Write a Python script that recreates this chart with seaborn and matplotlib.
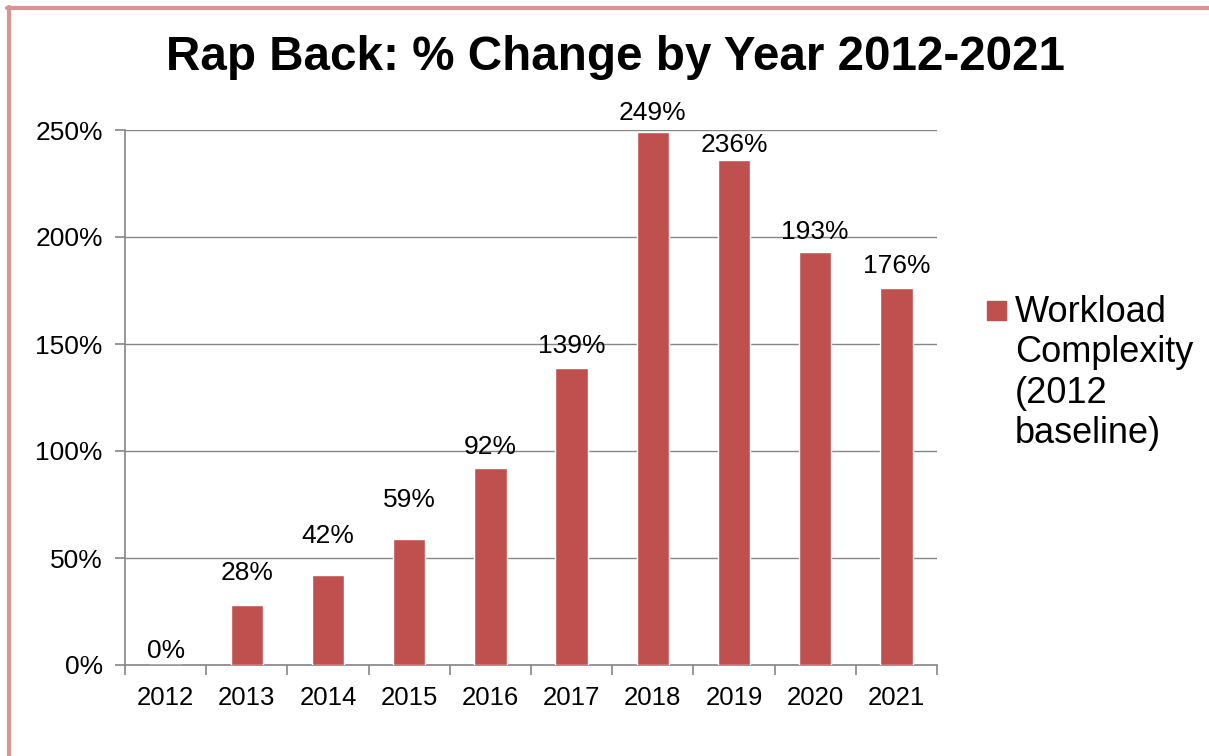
import matplotlib
matplotlib.use("Agg")
import matplotlib.pyplot as plt
import seaborn as sns
import pandas as pd
from matplotlib.lines import Line2D
from matplotlib.patches import Rectangle
from matplotlib.ticker import FuncFormatter, FixedLocator

years = ["2012", "2013", "2014", "2015", "2016", "2017", "2018", "2019", "2020", "2021"]
values = [0, 28, 42, 59, 92, 139, 249, 236, 193, 176]
series_name = "Workload\nComplexity\n(2012\nbaseline)"
title = "Rap Back: % Change by Year 2012-2021"
# vertical offsets (pixels) of the data labels above bar tops, as placed in the original
label_offsets_px = [14, 32, 39, 39, 21, 22, 19, 15, 20, 22]

sns.set_theme(style="white")
plt.rcParams['font.family'] = ['Liberation Sans', 'DejaVu Sans']
plt.rcParams['text.color'] = 'black'
plt.rcParams['xtick.color'] = 'black'
plt.rcParams['ytick.color'] = 'black'

df = pd.DataFrame({"year": years, "value": values})

fig = plt.figure(figsize=(12.09, 7.56), dpi=100)
ax = fig.add_axes([125/1209, 1-665/756, (937-125)/1209, (665-130)/756])

bar_color = "#C0504D"
sns.barplot(data=df, x="year", y="value", color=bar_color, width=0.4,
            saturation=1, ax=ax, zorder=3)

ax.set_ylim(0, 250)
ax.set_xlim(-0.5, len(years) - 0.5)
ax.set_yticks([0, 50, 100, 150, 200, 250])
ax.yaxis.set_major_formatter(FuncFormatter(lambda v, p: f"{int(v)}%"))
ax.grid(axis="y", color="#868686", linewidth=1, zorder=0)
ax.set_axisbelow(True)
ax.set_xlabel("")
ax.set_ylabel("")

for side in ["top", "right"]:
    ax.spines[side].set_visible(False)
for side in ["left", "bottom"]:
    ax.spines[side].set_color("#868686")
    ax.spines[side].set_linewidth(1.2)

ax.tick_params(axis="y", which="major", length=7, width=1.2, color="#868686",
               labelcolor="black", labelsize=19, pad=9, left=True)
ax.tick_params(axis="x", which="major", length=0, labelsize=18.5, labelcolor="black", pad=15)
ax.xaxis.set_minor_locator(FixedLocator([i - 0.5 for i in range(len(years) + 1)]))
ax.tick_params(axis="x", which="minor", length=7, width=1.2, color="#868686", bottom=True)

for patch, v, off in zip(ax.patches, values, label_offsets_px):
    x = patch.get_x() + patch.get_width() / 2
    ax.annotate(f"{v}%", (x, patch.get_height()), xytext=(0, off * 0.72),
                textcoords="offset points", ha="center", va="center",
                fontsize=19, color="black", zorder=5)

fig.text(615/1209, 1-57/756, title, ha="center", va="center",
         fontsize=34.3, fontweight="bold", color="black")

# legend
fig.patches.append(Rectangle((987/1209, 1-320/756), 19/1209, 19/756,
                             transform=fig.transFigure, color=bar_color))
fig.text(1015/1209, 1-295/756, series_name, ha="left", va="top",
         fontsize=26, linespacing=1.2, color="black")

# border
fig.add_artist(Line2D([7/1209, 1], [1-8/756, 1-8/756], transform=fig.transFigure,
                      color="#D99594", linewidth=3))
fig.add_artist(Line2D([9/1209, 9/1209], [0, 1-7/756], transform=fig.transFigure,
                      color="#D99594", linewidth=3))

fig.savefig("out.png", dpi=100)
